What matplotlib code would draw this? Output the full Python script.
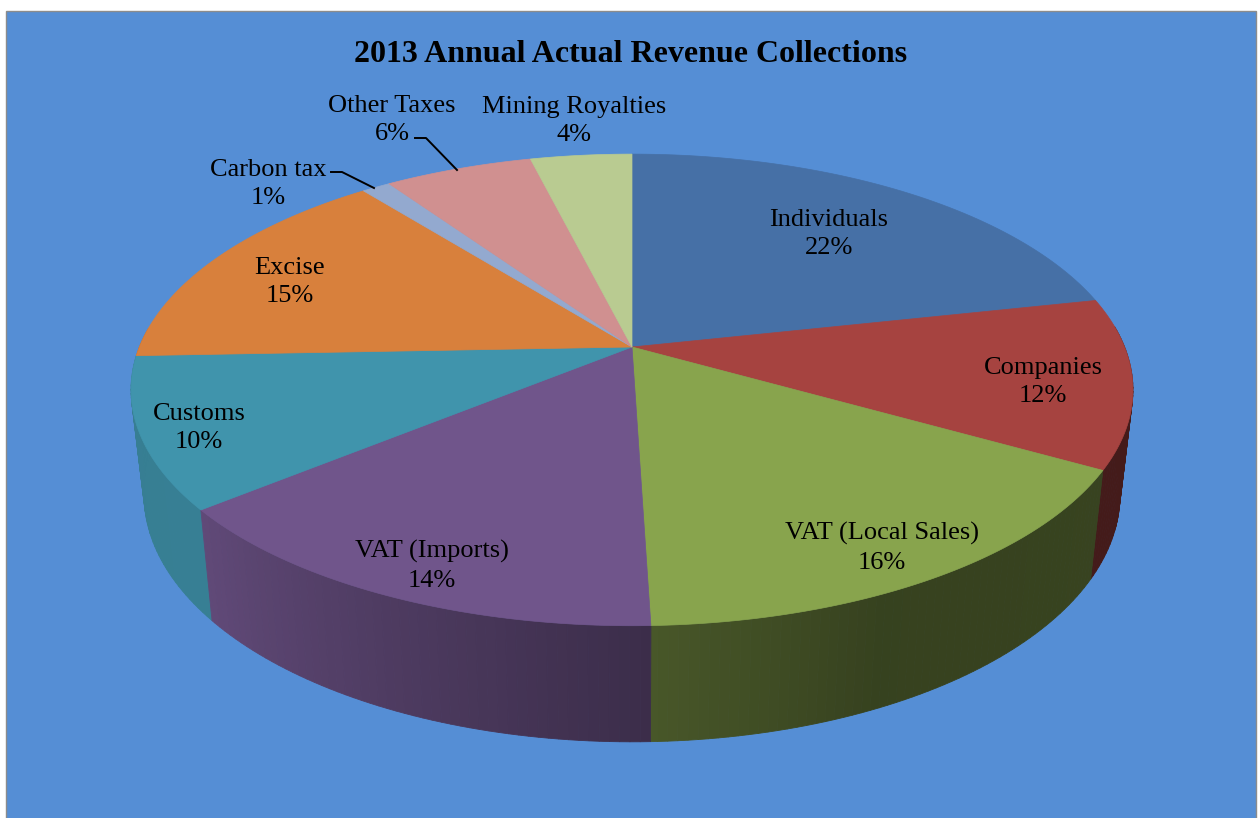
# -*- coding: utf-8 -*-
import numpy as np
import matplotlib
matplotlib.use("Agg")
import matplotlib.pyplot as plt
from matplotlib.patches import Polygon, Rectangle

plt.rcParams['font.family'] = ['Liberation Serif', 'DejaVu Serif']

# DATA
names = ["Individuals", "Companies", "VAT (Local Sales)", "VAT (Imports)", "Customs",
         "Excise", "Carbon tax", "Other Taxes", "Mining Royalties"]
values = [21.6, 11.6, 16.3, 14.6, 10.3, 14.9, 1.1, 5.7, 3.9]
pct_labels = [22, 12, 16, 14, 10, 15, 1, 6, 4]
title = "2013 Annual Actual Revenue Collections"

# STYLE
colors = ["#4670A6", "#A64340", "#88A44D", "#70558B", "#4094AC",
          "#D8803C", "#93A9CF", "#D09090", "#B9CB91"]
bg = "#558ED5"
label_xy = [(829, 234), (1043, 382), (882, 548), (432, 566), (199, 428),
            (290, 282), (268, 184), (392, 120), (574, 121)]
shade_angle = [90, 120, 155, 178, 230, 270]
shade_val = [0.41, 0.41, 0.40, 0.53, 0.86, 0.85]

# pie geometry in pixels
cx, cy = 632.0, 347.0
a, b, k = 492.6, 228.0, 0.182


def top_point(ang):
    # perspective view of a circle, angle clockwise from 12 o'clock
    t = np.radians(ang)
    u = np.sin(t)
    v = -np.cos(t)
    w = 1 - k * v
    return cx + a * u / w, cy + b * v / w


def low_point(ang):
    x, y = top_point(ang)
    return cx + 0.974 * (x - cx), 450 + 1.047 * (y - cy)


def shaded(col, s):
    rgb = np.array(matplotlib.colors.to_rgb(col))
    return tuple(rgb * s)


fig = plt.figure(figsize=(12.58, 8.18), dpi=100, facecolor="white")
ax = fig.add_axes([0, 0, 1, 1])
ax.set_xlim(0, 1258)
ax.set_ylim(818, 0)
ax.axis("off")

ax.add_patch(Rectangle((5.5, 10.5), 1250.5, 810, facecolor=bg, edgecolor="#8c8c8c", lw=1))

edges = np.concatenate([[0], np.cumsum(values)]) / np.sum(values) * 360

# side wall, sides first so the front strips end up on top
strips = []
for i in range(len(values)):
    angs = np.arange(edges[i], edges[i + 1], 1.0)
    angs = np.append(angs, edges[i + 1])
    for j in range(len(angs) - 1):
        mid = (angs[j] + angs[j + 1]) / 2
        if 85 < mid < 275:
            strips.append((abs(mid - 180), i, angs[j], angs[j + 1], mid))
strips.sort(key=lambda r: -r[0])
for _, i, a0, a1, mid in strips:
    c = shaded(colors[i], np.interp(mid, shade_angle, shade_val))
    pts = [top_point(a0), top_point(a1), low_point(a1), low_point(a0)]
    ax.add_patch(Polygon(pts, closed=True, facecolor=c, edgecolor=c, lw=0.6))

# top face
for i in range(len(values)):
    angs = np.linspace(edges[i], edges[i + 1], 80)
    pts = [(cx, cy)] + [top_point(t) for t in angs]
    ax.add_patch(Polygon(pts, closed=True, facecolor=colors[i], edgecolor=colors[i], lw=0.5))

# labels
for name, p, (x, y) in zip(names, pct_labels, label_xy):
    ax.text(x, y, "%s\n%d%%" % (name, p), ha="center", va="center",
            fontsize=19, color="black", linespacing=1.36)

ax.text(631, 55, title, ha="center", va="center", fontsize=23, fontweight="bold", color="black")

# leader lines
ax.plot([331, 342, 374], [172, 172, 188], color="black", lw=1.4)
ax.plot([415, 426, 457], [138, 138, 170], color="black", lw=1.4)

fig.savefig("out.png", dpi=100, facecolor="white")
